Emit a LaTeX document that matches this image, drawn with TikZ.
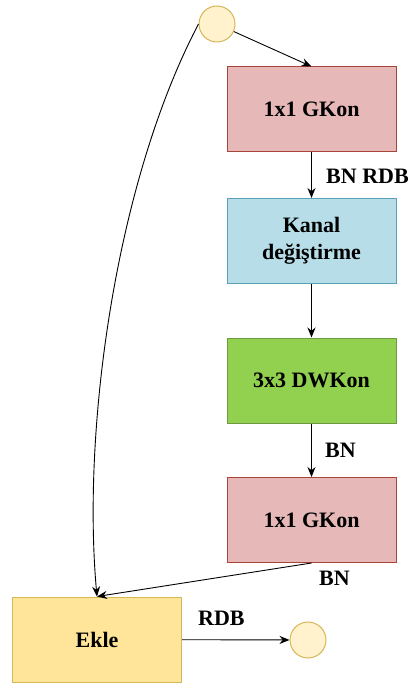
\documentclass[tikz,border=0pt]{standalone}
\usepackage{fontspec}
\setmainfont{Liberation Serif}
\usetikzlibrary{arrows.meta}
\definecolor{pinkfill}{HTML}{E6B8B7}
\definecolor{pinkline}{HTML}{A8443A}
\definecolor{bluefill}{HTML}{B7DEE8}
\definecolor{blueline}{HTML}{5A9FB5}
\definecolor{greenfill}{HTML}{92D050}
\definecolor{greenline}{HTML}{6E9A40}
\definecolor{yelfill}{HTML}{FFE599}
\definecolor{yelline}{HTML}{D6B656}
\definecolor{circfill}{HTML}{FFF2CC}
\tikzset{
  blk/.style={draw, line width=1pt, minimum width=169pt, minimum height=85pt, inner sep=0pt, align=center,
    font=\fontsize{22}{26.5}\selectfont\bfseries},
  circ/.style={circle, draw=yelline, fill=circfill, line width=1pt, minimum size=36pt, inner sep=0pt},
  lbl/.style={font=\fontsize{22}{26}\selectfont\bfseries, inner sep=0pt},
  arr/.style={-{Stealth[length=10pt,width=8pt]}, line width=0.9pt, black},
}
\begin{document}
\begin{tikzpicture}[x=1pt,y=-1pt]
\useasboundingbox (0,0) rectangle (409,684);
\node[circ] (c1) at (217,24) {};
\node[blk, fill=pinkfill, draw=pinkline] (b1) at (311.5,109.5) {1x1 GKon};
\node[blk, fill=bluefill, draw=blueline] (b2) at (311.5,241) {Kanal\\değiştirme};
\node[blk, fill=greenfill, draw=greenline] (b3) at (311.5,380.5) {3x3 DWKon};
\node[blk, fill=pinkfill, draw=pinkline] (b4) at (311.5,520) {1x1 GKon};
\node[blk, fill=yelfill, draw=yelline] (ek) at (97,639.5) {Ekle};
\node[circ] (c2) at (308,640) {};

\draw[arr] (c1) -- (b1.north);
\draw[arr] (b1) -- (b2);
\draw[arr] (b2) -- (b3);
\draw[arr] (b3) -- (b4);
\draw[arr] (b4.south) -- (ek.north);
\draw[arr] (ek) -- (c2);
\draw[arr] (c1.west) .. controls (115,183) and (82,430) .. (ek.north);

\node[lbl, anchor=west] (l1) at (326,176) {BN RDB};
\node[lbl, anchor=west] (l2) at (325,450) {BN};
\node[lbl, anchor=west] (l3) at (319,578) {BN};
\node[lbl, anchor=west] (l4) at (198,618) {RDB};
\end{tikzpicture}
\end{document}
